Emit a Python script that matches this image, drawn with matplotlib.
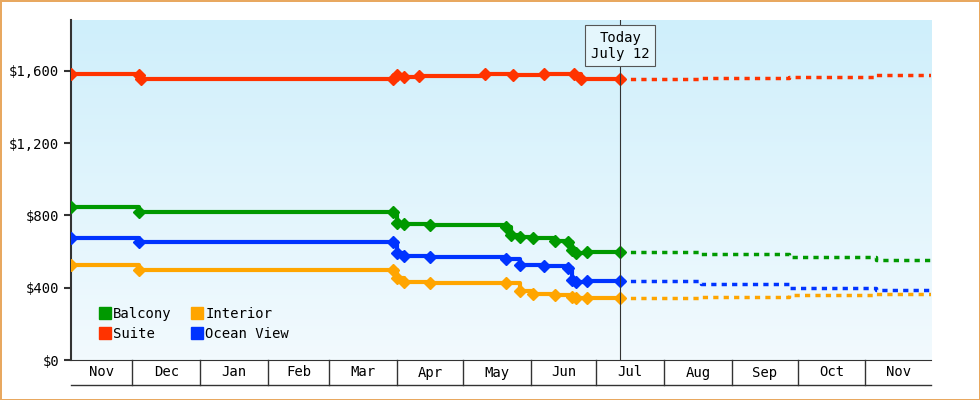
import numpy as np
import matplotlib.pyplot as plt
from matplotlib.colors import LinearSegmentedColormap

plt.rcParams['font.family'] = 'DejaVu Sans Mono'

# days counted from Dec 1
months = ['Nov', 'Dec', 'Jan', 'Feb', 'Mar', 'Apr', 'May', 'Jun', 'Jul', 'Aug', 'Sep', 'Oct', 'Nov']
month_edges = [-28, 0, 31, 62, 90, 121, 151, 182, 212, 243, 274, 304, 335, 365]
today = 223

balcony_x = [-28, 3, 119, 121, 124, 136, 171, 173, 177, 183, 193, 199, 201, 203, 208, 223]
balcony_y = [847, 820, 820, 760, 753, 745, 735, 690, 683, 675, 661, 655, 610, 592, 596, 596]
suite_x = [-28, 3, 4, 119, 121, 124, 131, 161, 174, 188, 202, 205, 223]
suite_y = [1583, 1575, 1556, 1556, 1580, 1565, 1572, 1583, 1578, 1583, 1583, 1558, 1555]
ocean_x = [-28, 3, 119, 121, 124, 136, 171, 177, 188, 199, 201, 203, 208, 223]
ocean_y = [675, 653, 653, 590, 576, 568, 557, 525, 518, 510, 445, 430, 440, 435]
interior_x = [-28, 3, 119, 121, 124, 136, 171, 177, 183, 193, 201, 203, 208, 223]
interior_y = [526, 498, 498, 455, 430, 425, 425, 380, 368, 360, 350, 343, 345, 345]

fc_x = [223, 260, 300, 340, 365]
balcony_fc = [596, 585, 570, 555, 545]
suite_fc = [1555, 1560, 1565, 1575, 1578]
ocean_fc = [435, 420, 400, 385, 370]
interior_fc = [345, 350, 358, 365, 370]

colors = {'Balcony': '#009900', 'Suite': '#ff3300', 'Interior': '#ffa500', 'Ocean View': '#0033ff'}

fig = plt.figure(figsize=(9.8, 4.0), dpi=100)
fig.patch.set_edgecolor('#e8a860')
fig.patch.set_linewidth(2)
ax = fig.add_axes([71/980, 40/400, 860/980, 340/400])

cmap = LinearSegmentedColormap.from_list('bg', ['#cfeffb', '#f2fafe'])
ax.imshow(np.linspace(0, 1, 100).reshape(-1, 1), aspect='auto', cmap=cmap,
          extent=[-28, 365, 0, 1882], zorder=0, origin='upper')
ax.set_xlim(-28, 365)
ax.set_ylim(0, 1882)

series = [('Balcony', balcony_x, balcony_y, balcony_fc),
          ('Suite', suite_x, suite_y, suite_fc),
          ('Interior', interior_x, interior_y, interior_fc),
          ('Ocean View', ocean_x, ocean_y, ocean_fc)]
for name, xs, ys, fc in series:
    c = colors[name]
    ax.plot(xs, ys, drawstyle='steps-post', color=c, lw=3, zorder=3)
    ax.plot(xs, ys, 'D', color=c, ms=6, zorder=4, ls='none')
    ax.plot(fc_x, fc, color=c, lw=2.5, ls=(0, (1.5, 1.5)), drawstyle='steps-post', zorder=3)
    ax.plot([], [], 's', color=c, ms=9, label=name)

ax.axvline(today, color='#333333', lw=0.8, zorder=5)
ax.text(today, 1740, 'Today\nJuly 12', ha='center', va='center', fontsize=10, zorder=6,
        bbox=dict(boxstyle='square,pad=0.4', fc='#e4f6fc', ec='#555555', lw=0.8))

ax.set_yticks([0, 400, 800, 1200, 1600])
ax.set_yticklabels(['$0', '$400', '$800', '$1,200', '$1,600'], fontsize=10)
ax.set_xticks([])
for s in ['top', 'right']:
    ax.spines[s].set_visible(False)
ax.spines['left'].set_linewidth(1.5)
ax.spines['left'].set_color('#333333')
ax.spines['bottom'].set_color('#333333')
ax.tick_params(axis='y', length=5, width=1.5, color='#333333')

# month cells below the axis
row = -25 / 340 * 1882
for i, m in enumerate(months):
    ax.text((month_edges[i] + month_edges[i + 1]) / 2, row / 2, m, ha='center', va='center',
            fontsize=10, clip_on=False)
for e in month_edges[1:-1]:
    ax.plot([e, e], [0, row], color='#333333', lw=1, clip_on=False)
ax.plot([-28, 365], [row, row], color='#333333', lw=1, clip_on=False)

leg = ax.legend(loc='lower left', ncol=2, frameon=False, fontsize=10, handlelength=0.6,
                handletextpad=0.3, columnspacing=1.5, labelspacing=0.4, bbox_to_anchor=(0.02, 0.02))

fig.savefig('out.png', dpi=100, edgecolor=fig.get_edgecolor())
